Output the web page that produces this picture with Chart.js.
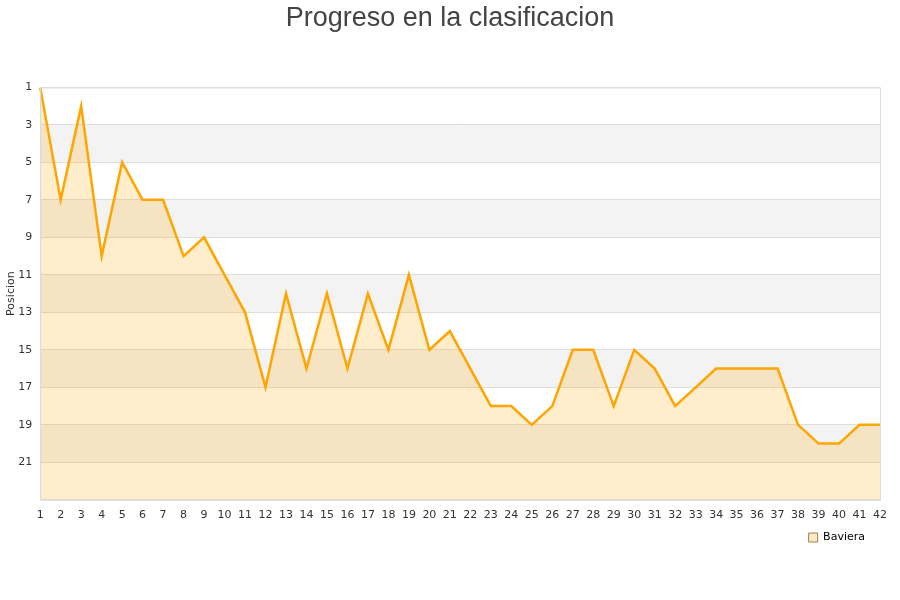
<!DOCTYPE html>
<html>
<head>
<meta charset="utf-8">
<script src="https://cdn.jsdelivr.net/npm/chart.js@4/dist/chart.umd.min.js"></script>
<style>
  html, body { margin: 0; padding: 0; background: #fff; }
  #wrap { width: 900px; height: 600px; }
</style>
</head>
<body>
<div id="wrap"><canvas id="canvas" width="900" height="600"></canvas></div>
<script>
// jornadas 1..42 y posicion en cada una
var jornadas = [];
for (var j = 1; j <= 42; j++) jornadas.push(String(j));
var posicion = [1, 7, 2, 10, 5, 7, 7, 10, 9, 11, 13, 17, 12, 16, 12, 16, 12, 15, 11, 15,
                14, 16, 18, 18, 19, 18, 15, 15, 18, 15, 16, 18, 17, 16, 16, 16, 16, 19, 20, 20,
                19, 19];
var equipo = 'Baviera';
var posMin = 1, posMax = 23;

// alternating grey bands (every other 2-position stripe)
var bandas = {
  id: 'bandas',
  beforeDraw: function (chart) {
    var ctx = chart.ctx, area = chart.chartArea, y = chart.scales.y;
    ctx.save();
    ctx.fillStyle = '#f3f3f3';
    for (var v = 3; v < posMax; v += 4) {
      var y1 = y.getPixelForValue(v), y2 = y.getPixelForValue(Math.min(v + 2, posMax));
      ctx.fillRect(area.left, y1, area.right - area.left, y2 - y1);
    }
    ctx.restore();
  },
  afterDraw: function (chart) {
    var ctx = chart.ctx, area = chart.chartArea;
    ctx.save();
    ctx.strokeStyle = '#dddddd';
    ctx.lineWidth = 1;
    ctx.strokeRect(area.left + 0.5, area.top + 0.5, area.right - area.left, area.bottom - area.top);
    ctx.restore();
  }
};

var ctx = document.getElementById('canvas').getContext('2d');
var chart = new Chart(ctx, {
  type: 'line',
  data: {
    labels: jornadas,
    datasets: [{
      label: equipo,
      data: posicion,
      borderColor: '#ffa500',
      borderWidth: 2.5,
      backgroundColor: 'rgba(255,165,0,0.2)',
      fill: { value: posMax },
      pointRadius: 0,
      tension: 0
    }]
  },
  options: {
    responsive: false,
    animation: false,
    layout: { padding: { left: 0, right: 0, top: 0, bottom: 47 } },
    plugins: {
      title: {
        display: true,
        text: 'Progreso en la clasificacion',
        color: '#444',
        font: { family: 'Liberation Sans', size: 27, weight: 'normal' },
        padding: { top: 2, bottom: 53 }
      },
      legend: {
        position: 'bottom',
        align: 'end',
        // empty title with negative padding just to pull the legend up against the axis
        title: { display: true, text: '', font: { size: 1, lineHeight: 1 }, padding: { top: -27, bottom: 0 } },
        labels: {
          boxWidth: 9,
          boxHeight: 9,
          padding: 35,
          color: '#000',
          font: { family: 'DejaVu Sans', size: 11 },
          generateLabels: function (c) {
            return [{
              text: equipo,
              fillStyle: '#fde9c8',
              strokeStyle: '#a08050',
              fontColor: '#000',
              lineWidth: 1,
              datasetIndex: 0
            }];
          }
        }
      },
      tooltip: { enabled: false }
    },
    scales: {
      x: {
        offset: false,
        grid: { display: false },
        border: { color: '#dddddd' },
        ticks: { color: '#333', font: { family: 'DejaVu Sans', size: 11 }, maxRotation: 0, autoSkip: false, padding: 1 }
      },
      y: {
        reverse: true,
        min: posMin,
        max: posMax,
        grid: { color: '#dddddd', drawTicks: false },
        border: { color: '#dddddd' },
        title: {
          display: true,
          text: 'Posicion',
          color: '#333',
          font: { family: 'DejaVu Sans', size: 11 },
          padding: { top: 5, bottom: -8 }
        },
        ticks: {
          stepSize: 2,
          color: '#333',
          padding: 8,
          font: { family: 'DejaVu Sans', size: 11 },
          callback: function (v) { return v === posMax ? '' : v; }
        }
      },
      // empty right-hand axis, only reserves the right margin so the title stays centred on the page
      margen: {
        position: 'right',
        grid: { display: false },
        border: { display: false },
        ticks: { display: false },
        afterFit: function (s) { s.width = 20; }
      }
    }
  },
  plugins: [bandas]
});
</script>
</body>
</html>
